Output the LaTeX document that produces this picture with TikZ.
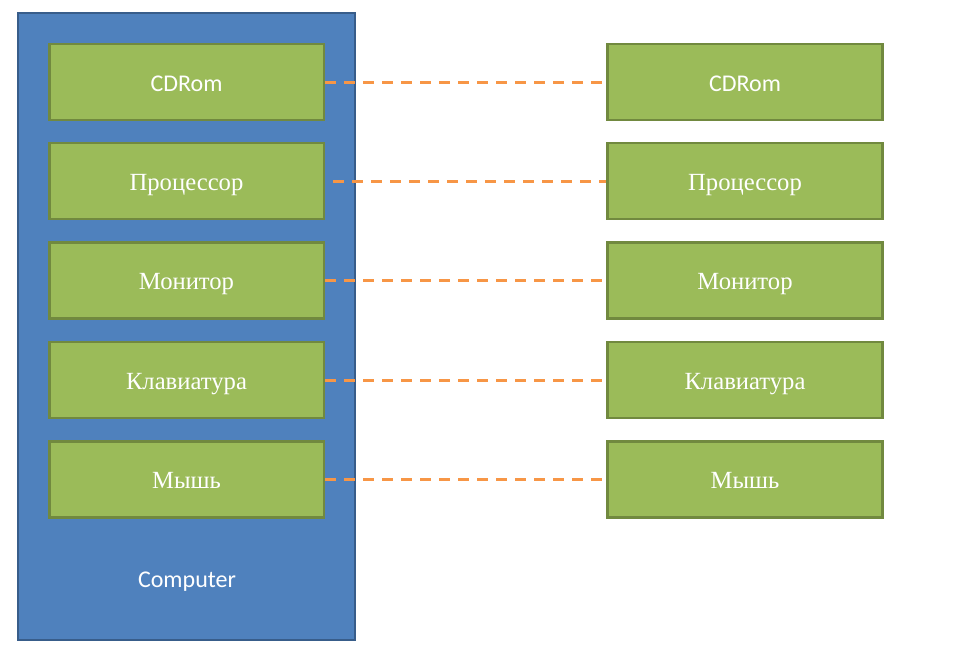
\documentclass[tikz,border=0pt]{standalone}
\usepackage{fontspec}
\setmainfont{Liberation Serif}
\newfontfamily\calibri{Carlito}
\definecolor{boxblue}{RGB}{79,129,189}
\definecolor{boxblueline}{RGB}{56,93,138}
\definecolor{partgreen}{RGB}{155,187,89}
\definecolor{partgreenline}{RGB}{113,137,63}
\definecolor{linkorange}{RGB}{247,150,70}
\tikzset{every picture/.style={line width=0.75pt}}
\tikzset{
	part/.style={draw=partgreenline, fill=partgreen, line width=2pt, text=white,
		minimum width=206pt, minimum height=57pt, inner sep=0pt, text height=16pt, text depth=2pt,
		font=\fontsize{18.5}{20}\selectfont},
	link/.style={draw=linkorange, line width=2.25pt, dash pattern=on 8.25pt off 6pt}}

\begin{document}
\begin{tikzpicture}[x=0.75pt,y=0.75pt,yscale=-1,xscale=1]
	\useasboundingbox (0,0) rectangle (969,654);

	%Shape: Rectangle [id:computer]
	\node [draw=boxblueline, fill=boxblue, line width=1.5pt, minimum width=252.75pt, minimum height=470.25pt, inner sep=0pt] (computer) at (186.5,326.5) {};
	% Text Node
	\node [text=white, anchor=base, inner sep=0pt, font=\calibri\fontsize{18}{20}\selectfont] (computerlabel) at (187,587) {Computer};

	%Shape: Rectangle [id:left parts]
	\node [part, font=\calibri\fontsize{18}{20}\selectfont] (cdromA) at (186.5,82) {CDRom};
	\node [part] (cpuA) at (186.5,181) {Процессор};
	\node [part] (monitorA) at (186.5,280.5) {Монитор};
	\node [part] (keybA) at (186.5,380) {Клавиатура};
	\node [part] (mouseA) at (186.5,479.5) {Мышь};

	%Shape: Rectangle [id:right parts]
	\node [part, font=\calibri\fontsize{18}{20}\selectfont] (cdromB) at (745,82) {CDRom};
	\node [part] (cpuB) at (745,181) {Процессор};
	\node [part] (monitorB) at (745,280.5) {Монитор};
	\node [part] (keybB) at (745,380) {Клавиатура};
	\node [part] (mouseB) at (745,479.5) {Мышь};

	%Straight Lines [id:links]
	\draw [link, shorten >=3pt] (cdromA.east) -- (cdromB.west);
	\draw [link, shorten <=6pt] (cpuA.east) -- (cpuB.west);
	\draw [link, shorten >=3pt] (monitorA.east) -- (monitorB.west);
	\draw [link, shorten >=3pt] (keybA.east) -- (keybB.west);
	\draw [link, shorten >=3pt] (mouseA.east) -- (mouseB.west);

\end{tikzpicture}
\end{document}
